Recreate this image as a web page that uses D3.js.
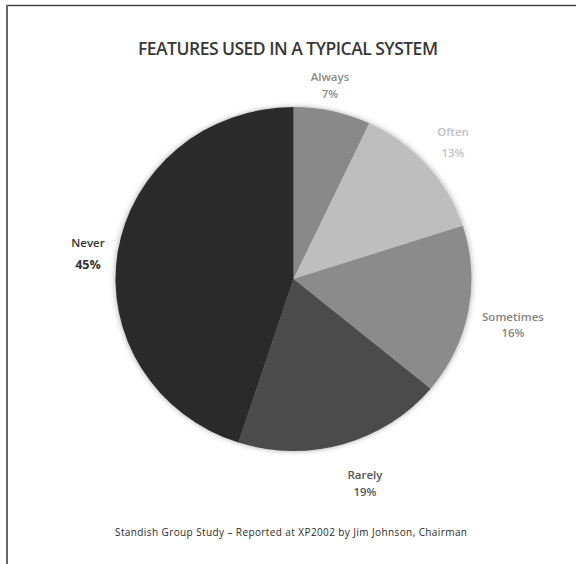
<!DOCTYPE html>
<html>
<head>
<meta charset="utf-8">
<script src="https://cdnjs.cloudflare.com/ajax/libs/d3/7.8.5/d3.min.js"></script>
<style>
  body { margin: 0; background: #fff; }
  svg { display: block; }
  text { font-family: "Open Sans", "Noto Sans", sans-serif; }
</style>
</head>
<body>
<script>
//data for the pie, read clockwise from 12 o'clock
var categories = ["Always", "Often", "Sometimes", "Rarely", "Never"];
var shares = [7, 13, 16, 19, 45];
var sliceColors = ["#898989", "#bebebe", "#8b8b8b", "#4b4b4b", "#2c2c2c"];
var labelColors = ["#8a8a8a", "#c2c2c2", "#858585", "#555555", "#333333"];

(function(){
    var width = 576, height = 564;
    var cx = 293.5, cy = 279, radius = 178;
    var squash = 172 / 178; //the pie is a little wider than tall

    var svg = d3.select("body").append("svg")
        .attr("width", width)
        .attr("height", height);

    //soft glow under the pie
    var defs = svg.append("defs");
    var filter = defs.append("filter").attr("id", "glow")
        .attr("x", "-10%").attr("y", "-10%").attr("width", "120%").attr("height", "120%");
    filter.append("feDropShadow")
        .attr("dx", 0).attr("dy", 0)
        .attr("stdDeviation", 3)
        .attr("flood-color", "#000")
        .attr("flood-opacity", 0.35);

    //frame lines on top and left
    svg.append("line").attr("x1", 6).attr("x2", width).attr("y1", 5.5).attr("y2", 5.5)
        .attr("stroke", "#444").attr("stroke-width", 1.5);
    svg.append("line").attr("x1", 7).attr("x2", 7).attr("y1", 5).attr("y2", height)
        .attr("stroke", "#666").attr("stroke-width", 2);

    //title
    svg.append("text")
        .attr("x", 288).attr("y", 55)
        .attr("text-anchor", "middle")
        .attr("font-size", 17.5)
        .attr("font-weight", 600)
        .attr("fill", "#383838")
        .attr("textLength", 300)
        .text("FEATURES USED IN A TYPICAL SYSTEM");

    var data = categories.map(function(c, i){
        return {name: c, value: shares[i], color: sliceColors[i], label: labelColors[i]};
    });

    var pie = d3.pie().sort(null).value(function(d){ return d.value; });
    var arc = d3.arc().innerRadius(0).outerRadius(radius);

    var g = svg.append("g")
        .attr("transform", "translate(" + cx + "," + cy + ") scale(1," + squash + ")");

    g.append("g").attr("filter", "url(#glow)")
        .selectAll("path")
        .data(pie(data))
        .enter()
        .append("path")
        .attr("d", arc)
        .attr("fill", function(d){ return d.data.color; });

    //label positions (x, name line, value line) in page coords
    var labelPos = {
        "Always":    [330, 81, 98],
        "Often":     [453, 136, 157],
        "Sometimes": [513, 321, 337],
        "Rarely":    [365, 479, 496],
        "Never":     [88, 247, 269]
    };

    data.forEach(function(d){
        var p = labelPos[d.name];
        var t = svg.append("g")
            .attr("fill", d.label)
            .attr("font-size", 11.5)
            .attr("font-weight", 600)
            .attr("text-anchor", "middle");
        t.append("text").attr("x", p[0]).attr("y", p[1]).text(d.name);
        t.append("text").attr("x", p[0]).attr("y", p[2])
            .attr("font-size", d.name == "Never" ? 12.5 : 11.5)
            .attr("font-weight", d.name == "Never" ? 700 : 600)
            .text(d.value + "%");
    });

    //footer
    svg.append("text")
        .attr("x", 291).attr("y", 536)
        .attr("text-anchor", "middle")
        .attr("font-size", 10)
        .attr("font-weight", 500)
        .attr("fill", "#2a2a2a")
        .attr("textLength", 352)
        .text("Standish Group Study \u2013 Reported at XP2002 by Jim Johnson, Chairman");
})();
</script>
</body>
</html>
